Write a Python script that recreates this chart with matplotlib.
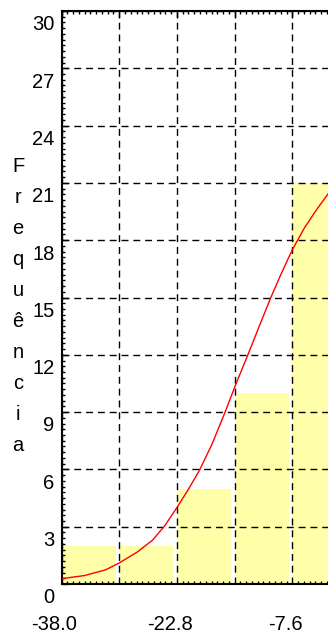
import matplotlib
matplotlib.use("Agg")
import matplotlib.pyplot as plt
import matplotlib.transforms as mtransforms
import numpy as np

plt.rcParams['font.family'] = ['Liberation Sans', 'DejaVu Sans']
plt.rcParams['axes.unicode_minus'] = False

# histogram bins (left edges) and counts
bin_left = [-38.0, -30.4, -22.8, -15.2, -7.6]
counts = [2, 2, 5, 10, 21]
bin_width = 7.6

# fitted curve
curve_x = [-38.0, -35.0, -32.2, -30.4, -28.0, -26.0, -24.4, -22.8, -21.3,
           -19.83, -18.2, -16.5, -15.0, -13.45, -12.0, -10.43, -9.0, -7.6,
           -6.0, -4.4, -2.9]
curve_y = [0.28, 0.44, 0.74, 1.1, 1.68, 2.3, 3.05, 4.0, 4.95,
           5.95, 7.3, 8.95, 10.5, 12.0, 13.45, 15.0, 16.3, 17.5,
           18.65, 19.6, 20.42]

x_ticks = [-38.0, -30.4, -22.8, -15.2, -7.6]
x_labels = ['-38.0', '', '-22.8', '', '-7.6']
y_ticks = list(range(0, 31, 3))

fig = plt.figure(figsize=(3.28, 6.36), dpi=100)
ax = fig.add_axes([61.5 / 328, 52 / 636, 1 - 61.5 / 328, 573 / 636])

ax.bar(bin_left, counts, width=bin_width * 0.94, align='edge',
       color='#ffffaa', edgecolor='none', zorder=1)
ax.plot(curve_x, curve_y, color='red', lw=1.0, zorder=4)

ax.set_xlim(-38.0, -2.9)
ax.set_ylim(0, 30)

ax.set_xticks(x_ticks)
ax.set_xticklabels(x_labels)
ax.set_yticks(y_ticks)
ax.set_xticks(np.arange(-38.0, -2.9, 0.76), minor=True)
ax.set_yticks(np.arange(0, 30.01, 0.3), minor=True)

ax.grid(True, which='major', color='black', linestyle=(0, (5, 3.5)), lw=1.0, zorder=3)
ax.set_axisbelow(False)

ax.tick_params(axis='both', which='both', direction='in', labelsize=14.5, colors='black')
ax.tick_params(axis='x', which='major', top=True, bottom=False, length=5, width=1, pad=22.5)
ax.tick_params(axis='x', which='minor', top=True, bottom=True, length=2.5, width=1)
ax.tick_params(axis='y', which='major', left=True, right=False, length=4, width=1, pad=5)
ax.tick_params(axis='y', which='minor', left=True, right=False, length=2.5, width=1)

# shift labels like in the original (y labels sit below their ticks)
dy = mtransforms.ScaledTranslation(0, -8.5 / 72, fig.dpi_scale_trans)
for lab in ax.get_yticklabels():
    lab.set_transform(lab.get_transform() + dy)
dx = mtransforms.ScaledTranslation(-5 / 72, 0, fig.dpi_scale_trans)
for lab in ax.get_xticklabels():
    lab.set_transform(lab.get_transform() + dx)

for side in ['left', 'top', 'bottom']:
    ax.spines[side].set_linewidth(1.5)
ax.spines['right'].set_visible(False)

fig.text(18 / 328, 1 - 306 / 636, "\n".join("Frequência"), fontsize=14.5,
         ha='center', va='center', linespacing=1.8)

fig.savefig("out.png", dpi=100)
